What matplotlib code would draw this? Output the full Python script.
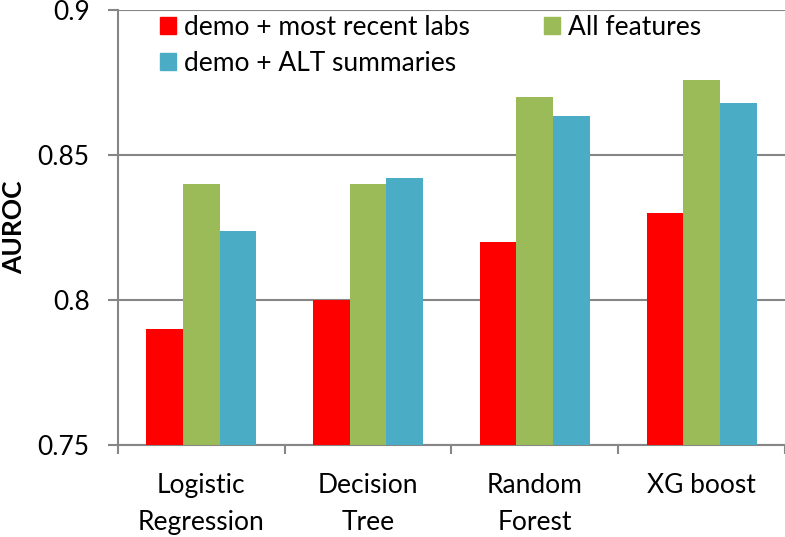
import matplotlib
matplotlib.use("Agg")
import matplotlib.pyplot as plt
import numpy as np
from matplotlib.patches import Patch

# Data
categories = ["Logistic\nRegression", "Decision\nTree", "Random\nForest", "XG boost"]
series_names = ["demo + most recent labs", "All features", "demo + ALT summaries"]
recent_labs = [0.790, 0.800, 0.820, 0.830]
all_features = [0.840, 0.840, 0.870, 0.876]
alt_summaries = [0.824, 0.842, 0.8635, 0.868]
colors = ["#FF0000", "#9BBB59", "#4BACC6"]

plt.rcParams["font.family"] = ["Lato", "DejaVu Sans"]

fig = plt.figure(figsize=(7.85, 5.37), dpi=100)
ax = fig.add_axes([0.150, 0.171, 0.85, 0.810])

x = np.arange(len(categories))
w = 0.22
for off, vals, c in zip([-w, 0, w], [recent_labs, all_features, alt_summaries], colors):
    ax.bar(x + off, np.array(vals) - 0.75, width=w, bottom=0.75, color=c, zorder=3)

ax.set_xlim(-0.5, len(categories) - 0.5)
ax.set_ylim(0.75, 0.9)
ax.set_yticks([0.75, 0.8, 0.85, 0.9])
ax.set_yticklabels(["0.75", "0.8", "0.85", "0.9"])
ax.yaxis.grid(True, color="#868686", lw=1.5, zorder=0)

grid_col = "#868686"
for s in ["top", "right"]:
    ax.spines[s].set_visible(False)
for s in ["left", "bottom"]:
    ax.spines[s].set_color(grid_col)
    ax.spines[s].set_linewidth(1.5)

# boundaries as major ticks, labels on minor ticks at centres
ax.set_xticks(np.arange(-0.5, len(categories) + 0.5, 1.0))
ax.set_xticklabels([])
ax.set_xticks(x, minor=True)
ax.set_xticklabels(categories, minor=True, fontsize=19, linespacing=1.6)
ax.tick_params(axis="x", which="major", length=6.5, width=1.5, color=grid_col)
ax.tick_params(axis="x", which="minor", length=0, pad=20)
ax.tick_params(axis="y", length=7.2, width=1.5, color=grid_col, labelsize=19, pad=13)

ax.set_ylabel("AUROC", fontsize=19, fontweight="bold", labelpad=8)

handles = [Patch(color=colors[0]), Patch(color=colors[2]), Patch(color=colors[1])]
labels = [series_names[0], series_names[2], series_names[1]]
fig.legend(handles, labels, ncol=2, frameon=False, fontsize=19,
           loc="upper left", bbox_to_anchor=(0.174, 1.016),
           handlelength=0.6, handleheight=0.6, handletextpad=0.3,
           columnspacing=2.8, labelspacing=0.4)

fig.savefig("out.png", dpi=100)
